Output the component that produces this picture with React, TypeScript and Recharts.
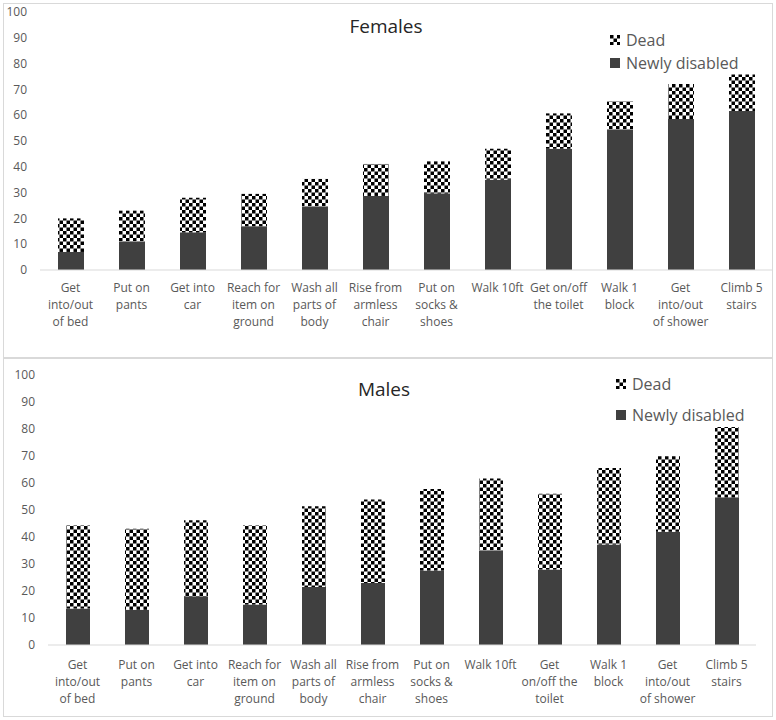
import { BarChart, Bar, XAxis, YAxis, Legend } from 'recharts';

const femaleLabels = [
  'Get\ninto/out\nof bed',
  'Put on\npants',
  'Get into\ncar',
  'Reach for\nitem on\nground',
  'Wash all\nparts of\nbody',
  'Rise from\narmless\nchair',
  'Put on\nsocks &\nshoes',
  'Walk 10ft',
  'Get on/off\nthe toilet',
  'Walk 1\nblock',
  'Get\ninto/out\nof shower',
  'Climb 5\nstairs',
];
const femaleNewlyDisabled = [7, 11, 14.6, 17, 24.5, 28.7, 29.7, 35, 47, 54.5, 58.5, 61.6];
const femaleDead = [13, 12, 13.4, 12.5, 10.8, 12.4, 12.4, 12, 13.7, 10.9, 13.6, 14.2];

const maleLabels = [
  'Get\ninto/out\nof bed',
  'Put on\npants',
  'Get into\ncar',
  'Reach for\nitem on\nground',
  'Wash all\nparts of\nbody',
  'Rise from\narmless\nchair',
  'Put on\nsocks &\nshoes',
  'Walk 10ft',
  'Get\non/off the\ntoilet',
  'Walk 1\nblock',
  'Get\ninto/out\nof shower',
  'Climb 5\nstairs',
];
const maleNewlyDisabled = [13.5, 13.1, 18.1, 15, 21.5, 23, 27.6, 35, 28, 37.2, 41.9, 54.7];
const maleDead = [30.8, 30, 28.1, 29.3, 29.9, 30.9, 30.2, 26.7, 28, 28.4, 28, 26];

const yTicks = [0, 10, 20, 30, 40, 50, 60, 70, 80, 90, 100];
const legendOrder = ['Dead', 'Newly disabled'];

const FONT = '"Open Sans", "Liberation Sans", sans-serif';
const TEXT = '#595959';
const DARK = '#404040';

const femaleData = femaleLabels.map((label, i) => ({
  label,
  newly: femaleNewlyDisabled[i],
  dead: femaleDead[i],
}));
const maleData = maleLabels.map((label, i) => ({
  label,
  newly: maleNewlyDisabled[i],
  dead: maleDead[i],
}));

const makeTick = (firstDy: number) => ({ x, y, payload }: any) => {
  const lines = String(payload.value).split('\n');
  return (
    <text x={x} y={y} textAnchor="middle" fill={TEXT} fontSize={12} fontFamily={FONT}>
      {lines.map((line, i) => (
        <tspan key={i} x={x} dy={i === 0 ? firstDy : 17}>
          {line}
        </tspan>
      ))}
    </text>
  );
};

const makeLegend = (rowHeight: number) => ({ payload }: any) => {
  const items = [...(payload || [])].sort(
    (a: any, b: any) => legendOrder.indexOf(a.value) - legendOrder.indexOf(b.value)
  );
  return (
    <div style={{ fontFamily: FONT, fontSize: 16, color: TEXT }}>
      {items.map((item: any) => (
        <div
          key={item.value}
          style={{ display: 'flex', alignItems: 'center', height: rowHeight, whiteSpace: 'nowrap' }}
        >
          <svg width={10} height={10} style={{ marginRight: 6 }}>
            <rect x={0} y={0} width={10} height={10} fill={item.color} />
          </svg>
          <span>{item.value}</span>
        </div>
      ))}
    </div>
  );
};

interface PanelProps {
  data: any[];
  top: number;
  height: number;
  marginTop: number;
  marginRight: number;
  yWidth: number;
  xHeight: number;
  barSize: number;
  tickDy: number;
  legendLeft: number;
  legendTop: number;
  legendRow: number;
}

const Panel = (p: PanelProps) => (
  <div style={{ position: 'absolute', left: 0, top: p.top }}>
    <BarChart
      width={776}
      height={p.height}
      data={p.data}
      barSize={p.barSize}
      margin={{ top: p.marginTop, right: p.marginRight, left: 0, bottom: 0 }}
    >
      <XAxis
        dataKey="label"
        height={p.xHeight}
        interval={0}
        tickLine={false}
        tickSize={0}
        tickMargin={0}
        axisLine={{ stroke: '#d9d9d9' }}
        tick={makeTick(p.tickDy)}
      />
      <YAxis
        width={p.yWidth}
        domain={[0, 100]}
        ticks={yTicks}
        axisLine={false}
        tickLine={false}
        tickSize={0}
        tickMargin={13}
        tick={{ fontSize: 12, fill: TEXT, fontFamily: FONT }}
      />
      <Legend
        layout="vertical"
        align="center"
        verticalAlign="middle"
        content={makeLegend(p.legendRow)}
        wrapperStyle={{ position: 'absolute', left: p.legendLeft, top: p.legendTop, width: 160 }}
      />
      <Bar dataKey="newly" name="Newly disabled" stackId="a" fill={DARK} isAnimationActive={false} />
      <Bar dataKey="dead" name="Dead" stackId="a" fill="url(#checker)" isAnimationActive={false} />
    </BarChart>
  </div>
);

const titleStyle = (left: number, top: number): React.CSSProperties => ({
  position: 'absolute',
  left,
  top,
  width: 100,
  textAlign: 'center',
  fontFamily: FONT,
  fontSize: 19,
  color: '#262626',
  lineHeight: '24px',
});

const App = () => (
  <div style={{ position: 'absolute', left: 0, top: 0, width: 776, height: 720, background: '#fff' }}>
    <svg width={0} height={0} style={{ position: 'absolute' }}>
      <defs>
        <pattern id="checker" patternUnits="userSpaceOnUse" width={7} height={7}>
          <rect x={0} y={0} width={7} height={7} fill="#ffffff" />
          <rect x={0} y={0} width={3.5} height={3.5} fill="#000000" />
          <rect x={3.5} y={3.5} width={3.5} height={3.5} fill="#000000" />
        </pattern>
      </defs>
    </svg>
    <div
      style={{
        position: 'absolute', left: 3, top: 3, width: 770, height: 355,
        border: '1px solid #d9d9d9', boxSizing: 'border-box',
      }}
    />
    <div
      style={{
        position: 'absolute', left: 3, top: 358, width: 770, height: 359,
        border: '1px solid #d9d9d9', boxSizing: 'border-box',
      }}
    />
    <Panel
      data={femaleData}
      top={0}
      height={358}
      marginTop={12}
      marginRight={4}
      yWidth={40}
      xHeight={88}
      barSize={26}
      tickDy={22}
      legendLeft={610}
      legendTop={28}
      legendRow={23}
    />
    <Panel
      data={maleData}
      top={358}
      height={362}
      marginTop={17}
      marginRight={20}
      yWidth={48}
      xHeight={75}
      barSize={24}
      tickDy={24}
      legendLeft={616}
      legendTop={10}
      legendRow={31}
    />
    <div style={titleStyle(336, 14)}>Females</div>
    <div style={titleStyle(334, 377)}>Males</div>
  </div>
);

export default App;
